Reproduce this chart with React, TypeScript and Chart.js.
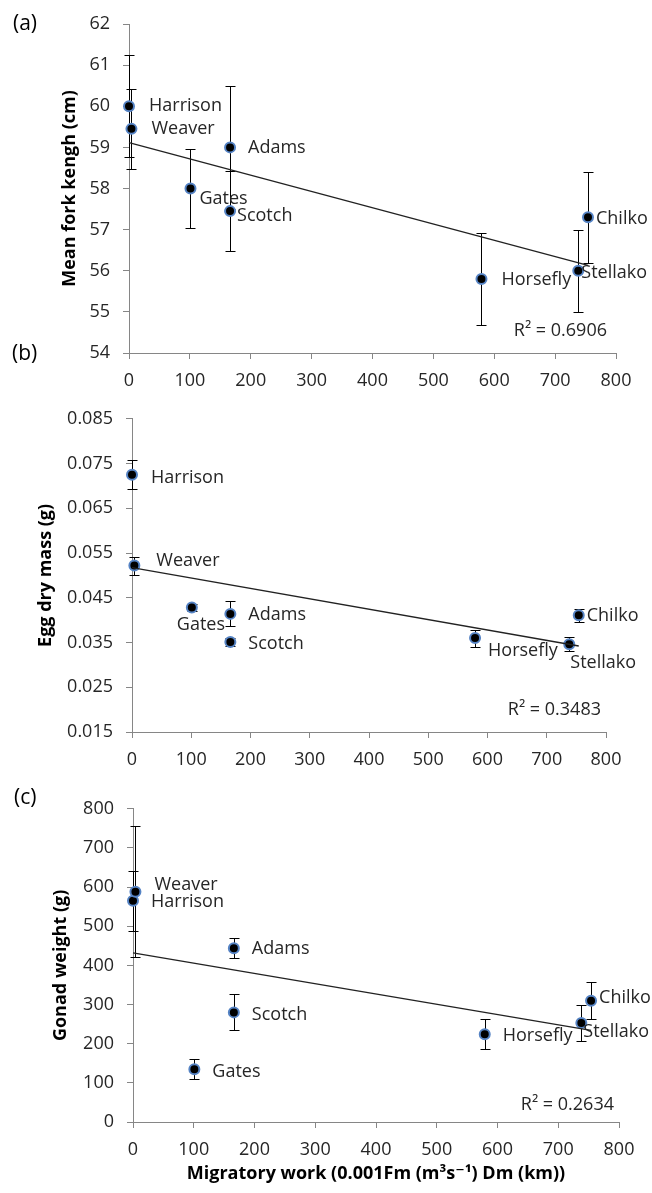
import React, { useEffect, useRef } from 'react';
import { Chart, registerables } from 'chart.js';

Chart.register(...registerables);

// ---------- data ----------
const rivers = ['Harrison', 'Weaver', 'Gates', 'Adams', 'Scotch', 'Horsefly', 'Stellako', 'Chilko'];
const migratoryWork = [0, 4, 101, 166, 166, 579, 738, 754];

const forkLength = [60.0, 59.45, 58.0, 59.0, 57.45, 55.8, 56.0, 57.3];
const forkLengthErr = [1.24, 0.97, 0.97, 1.5, 0.97, 1.12, 1.0, 1.1];

const eggMass = [0.0725, 0.0522, 0.0428, 0.0414, 0.0351, 0.036, 0.0346, 0.0411];
const eggMassErr = [0.0032, 0.002, 0.0008, 0.0028, 0.0009, 0.0019, 0.0016, 0.0015];

const gonadWeight = [565, 588, 135, 444, 280, 224, 253, 310];
const gonadWeightErr = [77, 167, 26, 26, 46, 38, 45, 48];

const xTicks = [0, 100, 200, 300, 400, 500, 600, 700, 800];
const forkTicks = [54, 55, 56, 57, 58, 59, 60, 61, 62];
const eggTicks = [0.015, 0.025, 0.035, 0.045, 0.055, 0.065, 0.075, 0.085];
const gonadTicks = [0, 100, 200, 300, 400, 500, 600, 700, 800];

const r2Texts = ['R² = 0.6906', 'R² = 0.3483', 'R² = 0.2634'];
const yTitles = ['Mean fork kengh (cm)', 'Egg dry mass (g)', 'Gonad weight (g)'];
const xTitle = 'Migratory work (0.001Fm (m³s⁻¹) Dm (km))';
const panelLetters = ['(a)', '(b)', '(c)'];

// ---------- layout / style (not data) ----------
const W = 652;
const FONT = '"Open Sans", "DejaVu Sans", sans-serif';
const TICK_COLOR = '#262626';
const AXIS_COLOR = '#868686';

// label offsets [dx, dy] relative to each point, per panel
const labelOffsetsA = [[20, 0], [20, 0], [9, 10], [18, 0], [7, 5], [20, 1], [3, 2], [8, 2]];
const labelOffsetsB = [[19, 3], [22, -5], [-15, 17], [18, 1], [18, 2], [13, 13], [1, 19], [8, 1]];
const labelOffsetsC = [[18, 1], [19, -7], [18, 3], [18, 1], [18, 2], [18, 2], [2, 9], [8, -3]];

function linReg(xs: number[], ys: number[]) {
  const n = xs.length;
  const mx = xs.reduce((a, b) => a + b, 0) / n;
  const my = ys.reduce((a, b) => a + b, 0) / n;
  let sxy = 0;
  let sxx = 0;
  for (let i = 0; i < n; i++) {
    sxy += (xs[i] - mx) * (ys[i] - my);
    sxx += (xs[i] - mx) * (xs[i] - mx);
  }
  const m = sxy / sxx;
  return { m, b: my - m * mx };
}

type Panel = {
  key: string;
  values: number[];
  errs: number[];
  yTicks: number[];
  fmt: (v: number) => string;
  yTitle: string;
  yTitlePad: number;
  offsets: number[][];
  r2: string;
  r2dx: number;
  r2dy: number;
  height: number;
  area: { left: number; right: number; top: number; bottom: number };
  showXTitle: boolean;
};

function buildChart(canvas: HTMLCanvasElement, p: Panel) {
  const reg = linReg(migratoryWork, p.values);
  const xMax = Math.max(...migratoryWork);

  const annot = {
    id: 'annot_' + p.key,
    beforeDatasetsDraw(chart: any) {
      const ctx = chart.ctx;
      const xs = chart.scales.x;
      const ys = chart.scales.y;
      ctx.save();
      ctx.strokeStyle = '#000';
      ctx.lineWidth = 1;
      for (let i = 0; i < p.values.length; i++) {
        const px = Math.round(xs.getPixelForValue(migratoryWork[i])) + 0.5;
        const y1 = Math.round(ys.getPixelForValue(p.values[i] + p.errs[i])) + 0.5;
        const y2 = Math.round(ys.getPixelForValue(p.values[i] - p.errs[i])) + 0.5;
        ctx.beginPath();
        ctx.moveTo(px, y1);
        ctx.lineTo(px, y2);
        ctx.moveTo(px - 5, y1);
        ctx.lineTo(px + 5, y1);
        ctx.moveTo(px - 5, y2);
        ctx.lineTo(px + 5, y2);
        ctx.stroke();
      }
      ctx.restore();
    },
    afterDatasetsDraw(chart: any) {
      const ctx = chart.ctx;
      const xs = chart.scales.x;
      const ys = chart.scales.y;
      ctx.save();
      ctx.font = '18px ' + FONT;
      ctx.fillStyle = TICK_COLOR;
      ctx.textAlign = 'left';
      ctx.textBaseline = 'middle';
      for (let i = 0; i < rivers.length; i++) {
        const px = xs.getPixelForValue(migratoryWork[i]);
        const py = ys.getPixelForValue(p.values[i]);
        const [dx, dy] = p.offsets[i];
        ctx.fillText(rivers[i], px + dx, py + dy);
      }
      ctx.textAlign = 'right';
      const ca = chart.chartArea;
      ctx.fillText(p.r2, ca.right + p.r2dx, ca.bottom + p.r2dy);
      ctx.restore();
    },
  };

  return new Chart(canvas, {
    type: 'scatter',
    data: {
      datasets: [
        {
          label: p.yTitle,
          data: migratoryWork.map((x, i) => ({ x, y: p.values[i] })),
          pointRadius: 5,
          pointHoverRadius: 5,
          pointBackgroundColor: '#000',
          pointBorderColor: '#5583c4',
          pointBorderWidth: 2,
          showLine: false,
          clip: false,
          order: 2,
        },
        {
          label: 'Linear trend',
          data: [
            { x: 0, y: reg.b },
            { x: xMax, y: reg.b + reg.m * xMax },
          ],
          showLine: true,
          borderColor: '#222',
          borderWidth: 1.3,
          pointRadius: 0,
          pointHoverRadius: 0,
          clip: false,
          order: 1,
        },
      ],
    },
    options: {
      animation: false,
      responsive: false,
      events: [],
      layout: {
        padding: { top: p.area.top, right: W - p.area.right, left: 0, bottom: 0 },
      },
      plugins: {
        legend: { display: false },
        tooltip: { enabled: false },
      },
      scales: {
        x: {
          type: 'linear',
          min: xTicks[0],
          max: xTicks[xTicks.length - 1],
          afterBuildTicks: (s: any) => {
            s.ticks = xTicks.map((v) => ({ value: v }));
          },
          afterFit: (s: any) => {
            s.height = p.height - p.area.bottom;
          },
          grid: {
            display: true,
            drawOnChartArea: false,
            drawTicks: true,
            tickLength: 6,
            color: AXIS_COLOR,
          },
          border: { display: true, color: AXIS_COLOR, width: 1 },
          ticks: {
            font: { family: FONT, size: 18 },
            color: TICK_COLOR,
            padding: 11,
            maxRotation: 0,
            autoSkip: false,
            callback: (v: any) => String(v),
          },
          title: {
            display: p.showXTitle,
            text: xTitle,
            font: { family: FONT, size: 18, weight: 'bold' },
            color: '#000',
            padding: { top: 0, bottom: 8 },
          },
        },
        y: {
          type: 'linear',
          min: p.yTicks[0],
          max: p.yTicks[p.yTicks.length - 1],
          afterBuildTicks: (s: any) => {
            s.ticks = p.yTicks.map((v) => ({ value: v }));
          },
          afterFit: (s: any) => {
            s.width = p.area.left;
          },
          grid: {
            display: true,
            drawOnChartArea: false,
            drawTicks: true,
            tickLength: 6,
            color: AXIS_COLOR,
          },
          border: { display: true, color: AXIS_COLOR, width: 1 },
          ticks: {
            font: { family: FONT, size: 18 },
            color: TICK_COLOR,
            padding: 13,
            autoSkip: false,
            callback: (v: any) => p.fmt(Number(v)),
          },
          title: {
            display: true,
            text: p.yTitle,
            font: { family: FONT, size: 18, weight: 'bold' },
            color: '#000',
            padding: { top: p.yTitlePad, bottom: 0 },
          },
        },
      },
    },
    plugins: [annot],
  } as any);
}

const panels: Panel[] = [
  {
    key: 'a',
    values: forkLength,
    errs: forkLengthErr,
    yTicks: forkTicks,
    fmt: (v) => String(v),
    yTitle: yTitles[0],
    yTitlePad: 59,
    offsets: labelOffsetsA,
    r2: r2Texts[0],
    r2dx: -9,
    r2dy: -22,
    height: 395,
    area: { left: 129, right: 616, top: 24, bottom: 353 },
    showXTitle: false,
  },
  {
    key: 'b',
    values: eggMass,
    errs: eggMassErr,
    yTicks: eggTicks,
    fmt: (v) => v.toFixed(3),
    yTitle: yTitles[1],
    yTitlePad: 35,
    offsets: labelOffsetsB,
    r2: r2Texts[1],
    r2dx: -5,
    r2dy: -22,
    height: 390,
    area: { left: 132, right: 606, top: 15, bottom: 337 },
    showXTitle: false,
  },
  {
    key: 'c',
    values: gonadWeight,
    errs: gonadWeightErr,
    yTicks: gonadTicks,
    fmt: (v) => String(v),
    yTitle: yTitles[2],
    yTitlePad: 50,
    offsets: labelOffsetsC,
    r2: r2Texts[2],
    r2dx: -5,
    r2dy: -17,
    height: 408,
    area: { left: 133, right: 619, top: 12, bottom: 337 },
    showXTitle: true,
  },
];

const panelTops = [0, 395, 785];
const letterPos = [
  { left: 13, top: 12 },
  { left: 12, top: 342 },
  { left: 14, top: 786 },
];

export default function App() {
  const refA = useRef<HTMLCanvasElement>(null);
  const refB = useRef<HTMLCanvasElement>(null);
  const refC = useRef<HTMLCanvasElement>(null);

  useEffect(() => {
    const refs = [refA, refB, refC];
    const charts = panels.map((p, i) => buildChart(refs[i].current as HTMLCanvasElement, p));
    return () => charts.forEach((c) => c.destroy());
  }, []);

  const refs = [refA, refB, refC];
  return (
    <div
      style={{
        position: 'absolute',
        left: 0,
        top: 0,
        width: W,
        height: 1193,
        background: '#fff',
        fontFamily: FONT,
        overflow: 'hidden',
      }}
    >
      {panels.map((p, i) => (
        <canvas
          key={p.key}
          ref={refs[i]}
          width={W}
          height={p.height}
          style={{ position: 'absolute', left: 0, top: panelTops[i], width: W, height: p.height, display: 'block' }}
        />
      ))}
      {panelLetters.map((t, i) => (
        <div
          key={t}
          style={{
            position: 'absolute',
            left: letterPos[i].left,
            top: letterPos[i].top,
            fontSize: 21,
            lineHeight: 1,
            color: '#000',
          }}
        >
          {t}
        </div>
      ))}
    </div>
  );
}
